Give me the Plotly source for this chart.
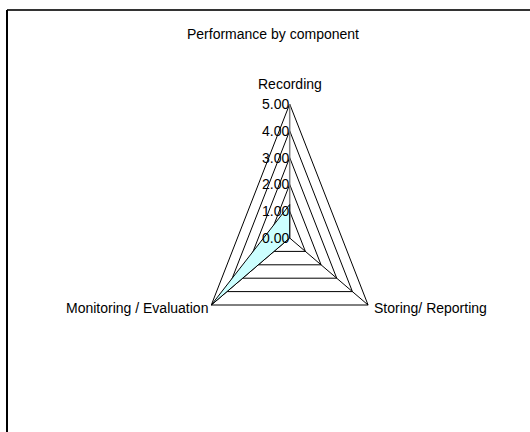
import numpy as np
import plotly.graph_objects as go

# ---- data ----
categories = ["Recording", "Storing/ Reporting", "Monitoring / Evaluation"]
values = [1.25, 0.0, 5.0]
tick_values = [0, 1, 2, 3, 4, 5]
tick_labels = ["0.00", "1.00", "2.00", "3.00", "4.00", "5.00"]
title_text = "Performance by component"

FONT = "Liberation Sans, Arial, sans-serif"
r_max = tick_values[-1]

# angles clockwise from top
n = len(categories)
theta = np.deg2rad(np.arange(n) * 360.0 / n)
sx, sy = np.sin(theta), np.cos(theta)

def ring(r):
    rr = np.full(n, r, dtype=float)
    x = list(rr * sx) + [rr[0] * sx[0]]
    y = list(rr * sy) + [rr[0] * sy[0]]
    return x, y

fig = go.Figure()

# grid rings
for t in tick_values[1:]:
    x, y = ring(t)
    fig.add_trace(go.Scatter(x=x, y=y, mode="lines",
                             line=dict(color="black", width=1),
                             hoverinfo="skip", showlegend=False))

# spokes
for i in range(n):
    fig.add_trace(go.Scatter(x=[0, r_max * sx[i]], y=[0, r_max * sy[i]], mode="lines",
                             line=dict(color="#808080" if i == 0 else "black",
                                       width=1.5 if i == 0 else 1),
                             hoverinfo="skip", showlegend=False))

# data polygon
v = np.array(values, dtype=float)
dx = list(v * sx) + [v[0] * sx[0]]
dy = list(v * sy) + [v[0] * sy[0]]
fig.add_trace(go.Scatter(x=dx, y=dy, mode="lines", fill="toself",
                         fillcolor="#CCFFFF",
                         line=dict(color="black", width=1),
                         hoverinfo="skip", showlegend=False))

# tick labels
for t, lab in zip(tick_values, tick_labels):
    fig.add_annotation(x=0, y=t, text=lab, showarrow=False,
                       xanchor="right", yanchor="middle", xshift=1,
                       font=dict(family=FONT, size=14, color="black"))

# category labels
anchors = [("center", "bottom", 0, 10), ("left", "middle", 4, -3), ("right", "middle", -1, -3)]
for i, cat in enumerate(categories):
    xa, ya, xs, ys = anchors[i]
    fig.add_annotation(x=r_max * sx[i], y=r_max * sy[i], text=cat, showarrow=False,
                       xanchor=xa, yanchor=ya, xshift=xs, yshift=ys,
                       font=dict(family=FONT, size=14, color="black"))

# frame (cut off at right and bottom as in the reference)
fig.add_shape(type="line", xref="paper", yref="paper",
              x0=7 / 530, x1=1.02, y0=1 - 10 / 432, y1=1 - 10 / 432,
              line=dict(color="#333333", width=2))
fig.add_shape(type="line", xref="paper", yref="paper",
              x0=7 / 530, x1=7 / 530, y0=1 - 10 / 432, y1=-0.02,
              line=dict(color="black", width=2))

W, H = 530, 432
cx_px, cy_px = 289.7, 238.0
ux, uy = 18.1, 26.8
fig.update_layout(
    width=W, height=H,
    margin=dict(l=0, r=0, t=0, b=0),
    paper_bgcolor="white", plot_bgcolor="white",
    title=dict(text=title_text, x=273 / W, xanchor="center", y=1 - 34 / H, yanchor="middle",
               font=dict(family=FONT, size=14, color="black")),
    xaxis=dict(range=[-cx_px / ux, (W - cx_px) / ux], visible=False, fixedrange=True),
    yaxis=dict(range=[-(H - cy_px) / uy, cy_px / uy], visible=False, fixedrange=True),
    showlegend=False,
)

fig.write_html(
    "out.html",
    config={"displayModeBar": False},
    post_script="document.body.style.margin='0';document.body.style.overflow='hidden';",
)
